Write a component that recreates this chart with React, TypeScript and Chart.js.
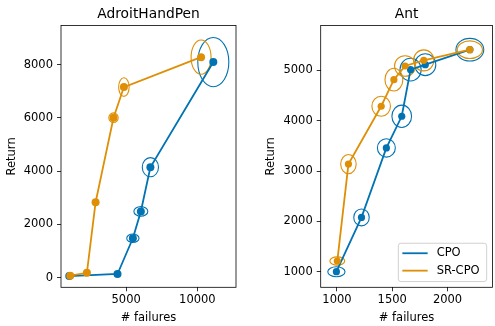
import React, { useEffect, useRef } from 'react';
import { Chart, registerables } from 'chart.js';

Chart.register(...registerables);

const FONT = 'DejaVu Sans';
const BLUE = '#0173b2';
const ORANGE = '#de8f05';

// ---- AdroitHandPen ----
const adroitCpoX = [1000, 4390, 5470, 6030, 6700, 11120];
const adroitCpoY = [60, 140, 1480, 2490, 4150, 8100];
const adroitCpoErrX = [150, 150, 430, 490, 570, 1090];
const adroitCpoErrY = [50, 50, 160, 180, 360, 925];
const adroitSrX = [1070, 2240, 2850, 4110, 4840, 10260];
const adroitSrY = [75, 185, 2830, 6010, 7160, 8285];
const adroitSrErrX = [150, 120, 120, 330, 370, 700];
const adroitSrErrY = [50, 50, 80, 180, 350, 645];
const adroitXTicks = [5000, 10000];
const adroitYTicks = [0, 2000, 4000, 6000, 8000];
const adroitXRange = [421, 12714];
const adroitYRange = [-360, 9473];

// ---- Ant ----
const antCpoX = [995, 1222, 1447, 1586, 1666, 1799, 2202];
const antCpoY = [1000, 2079, 3460, 4089, 5016, 5115, 5412];
const antCpoErrX = [78, 70, 81, 89, 96, 95, 126];
const antCpoErrY = [99, 168, 182, 222, 225, 218, 225];
const antSrX = [1003, 1104, 1400, 1515, 1616, 1785, 2202];
const antSrY = [1212, 3138, 4288, 4817, 5088, 5200, 5412];
const antSrErrX = [67, 70, 84, 81, 95, 92, 114];
const antSrErrY = [83, 191, 198, 225, 205, 208, 175];
const antXTicks = [1000, 1500, 2000];
const antYTicks = [1000, 2000, 3000, 4000, 5000];
const antXRange = [853, 2406];
const antYRange = [690, 5893];

const seriesLabels = ['CPO', 'SR-CPO'];

const zip = (xs: number[], ys: number[]) => xs.map((x, i) => ({ x, y: ys[i] }));

const ellipsePlugin = {
  id: 'errEllipses',
  beforeDatasetsDraw(chart: any) {
    const { ctx, chartArea, scales } = chart;
    ctx.save();
    ctx.beginPath();
    ctx.rect(chartArea.left, chartArea.top, chartArea.right - chartArea.left, chartArea.bottom - chartArea.top);
    ctx.clip();
    const xs = scales.x;
    const ys = scales.y;
    const metas = chart.getSortedVisibleDatasetMetas();
    for (let m = metas.length - 1; m >= 0; m--) {
      const ds = chart.data.datasets[metas[m].index];
      ctx.strokeStyle = ds.borderColor;
      ctx.lineWidth = 1.1;
      ds.data.forEach((p: any, i: number) => {
        const cx = xs.getPixelForValue(p.x);
        const cy = ys.getPixelForValue(p.y);
        const rx = Math.abs(xs.getPixelForValue(p.x + ds.errX[i]) - cx);
        const ry = Math.abs(ys.getPixelForValue(p.y + ds.errY[i]) - cy);
        ctx.beginPath();
        ctx.ellipse(cx, cy, rx, ry, 0, 0, Math.PI * 2);
        ctx.stroke();
      });
    }
    ctx.restore();
  },
};

const framePlugin = {
  id: 'frame',
  afterDatasetsDraw(chart: any) {
    const { ctx, chartArea } = chart;
    ctx.save();
    ctx.strokeStyle = '#000';
    ctx.lineWidth = 0.8;
    ctx.strokeRect(chartArea.left, chartArea.top, chartArea.right - chartArea.left, chartArea.bottom - chartArea.top);
    ctx.restore();
  },
};

const legendPlugin = {
  id: 'boxLegend',
  afterDraw(chart: any, _args: any, opts: any) {
    if (!opts || !opts.show) return;
    const { ctx, chartArea } = chart;
    const pad = 5.75;
    const w = 88.3;
    const h = 38.3;
    const right = chartArea.right - pad;
    const bottom = chartArea.bottom - pad;
    const left = right - w;
    const top = bottom - h;
    ctx.save();
    ctx.beginPath();
    ctx.roundRect(left, top, w, h, 2.5);
    ctx.fillStyle = 'rgba(255,255,255,0.8)';
    ctx.fill();
    ctx.strokeStyle = '#cccccc';
    ctx.lineWidth = 0.9;
    ctx.stroke();
    ctx.font = `11.5px "${FONT}"`;
    ctx.textBaseline = 'middle';
    ctx.textAlign = 'left';
    chart.data.datasets.forEach((ds: any, i: number) => {
      const y = top + 10 + i * 17.4;
      ctx.strokeStyle = ds.borderColor;
      ctx.lineWidth = 1.8;
      ctx.beginPath();
      ctx.moveTo(left + 4, y);
      ctx.lineTo(left + 29.3, y);
      ctx.stroke();
      ctx.fillStyle = '#000';
      ctx.fillText(ds.label, left + 38.3, y);
    });
    ctx.restore();
  },
};

function makeConfig(p: any) {
  const tickFont = { family: FONT, size: 11.5, lineHeight: 1 };
  const mkDs = (label: string, color: string, xs: number[], ys: number[], ex: number[], ey: number[], order: number) => ({
    label,
    data: zip(xs, ys),
    errX: ex,
    errY: ey,
    borderColor: color,
    backgroundColor: color,
    pointBackgroundColor: color,
    pointBorderWidth: 0,
    pointRadius: p.pointRadius,
    pointHoverRadius: p.pointRadius,
    borderWidth: 1.8,
    showLine: true,
    tension: 0,
    order,
  });
  return {
    type: 'scatter',
    data: {
      datasets: [
        mkDs(seriesLabels[0], BLUE, p.cpoX, p.cpoY, p.cpoEX, p.cpoEY, 1),
        mkDs(seriesLabels[1], ORANGE, p.srX, p.srY, p.srEX, p.srEY, 0),
      ],
    },
    options: {
      responsive: false,
      animation: false,
      events: [],
      layout: { padding: { left: p.padLeft, right: p.padRight, top: 0, bottom: 0 } },
      plugins: {
        legend: { display: false },
        tooltip: { enabled: false },
        title: {
          display: true,
          text: p.title,
          fullSize: false,
          color: '#000',
          font: { family: FONT, size: 13.8, weight: 'normal', lineHeight: 1 },
          padding: { top: 7.5, bottom: 4.2 },
        },
        boxLegend: { show: p.legend },
      },
      scales: {
        x: {
          type: 'linear',
          min: p.xRange[0],
          max: p.xRange[1],
          afterBuildTicks: (s: any) => { s.ticks = p.xTicks.map((v: number) => ({ value: v })); },
          afterFit: (s: any) => { s.height = 38.7; },
          border: { display: false },
          grid: { display: true, drawOnChartArea: false, drawTicks: true, tickLength: 4, tickColor: '#000', tickWidth: 0.8 },
          ticks: { font: tickFont, color: '#000', padding: 3, maxRotation: 0, autoSkip: false, callback: (v: any) => String(v) },
          title: { display: true, text: '# failures', color: '#000', font: tickFont, padding: { top: 0, bottom: 2.5 } },
        },
        y: {
          type: 'linear',
          min: p.yRange[0],
          max: p.yRange[1],
          afterBuildTicks: (s: any) => { s.ticks = p.yTicks.map((v: number) => ({ value: v })); },
          afterFit: (s: any) => { s.width = p.yWidth; },
          border: { display: false },
          grid: { display: true, drawOnChartArea: false, drawTicks: true, tickLength: 4, tickColor: '#000', tickWidth: 0.8 },
          ticks: { font: tickFont, color: '#000', padding: 4, autoSkip: false, callback: (v: any) => String(v) },
          title: { display: true, text: 'Return', color: '#000', font: tickFont, padding: { top: 6, bottom: 0 } },
        },
      },
    },
    plugins: [ellipsePlugin, framePlugin, legendPlugin],
  };
}

function Panel(props: { cfg: any; left: number; width: number }) {
  const ref = useRef<HTMLCanvasElement | null>(null);
  useEffect(() => {
    if (!ref.current) return;
    const chart = new Chart(ref.current, makeConfig(props.cfg) as any);
    return () => chart.destroy();
  }, []);
  return (
    <canvas
      ref={ref}
      width={props.width}
      height={326}
      style={{ position: 'absolute', left: props.left, top: 0, width: props.width, height: 326, display: 'block' }}
    />
  );
}

export default function App() {
  const adroit = {
    title: 'AdroitHandPen',
    cpoX: adroitCpoX, cpoY: adroitCpoY, cpoEX: adroitCpoErrX, cpoEY: adroitCpoErrY,
    srX: adroitSrX, srY: adroitSrY, srEX: adroitSrErrX, srEY: adroitSrErrY,
    xTicks: adroitXTicks, yTicks: adroitYTicks, xRange: adroitXRange, yRange: adroitYRange,
    padLeft: 0, padRight: 14, yWidth: 61, pointRadius: 4, legend: false,
  };
  const ant = {
    title: 'Ant',
    cpoX: antCpoX, cpoY: antCpoY, cpoEX: antCpoErrX, cpoEY: antCpoErrY,
    srX: antSrX, srY: antSrY, srEX: antSrErrX, srEY: antSrErrY,
    xTicks: antXTicks, yTicks: antYTicks, xRange: antXRange, yRange: antYRange,
    padLeft: 9, padRight: 0.5, yWidth: 61.7, pointRadius: 3.6, legend: true,
  };
  return (
    <div style={{ position: 'fixed', left: 0, top: 0, width: 495, height: 326, overflow: 'hidden', background: '#fff' }}>
      <Panel cfg={adroit} left={0} width={250} />
      <Panel cfg={ant} left={250} width={246} />
    </div>
  );
}
